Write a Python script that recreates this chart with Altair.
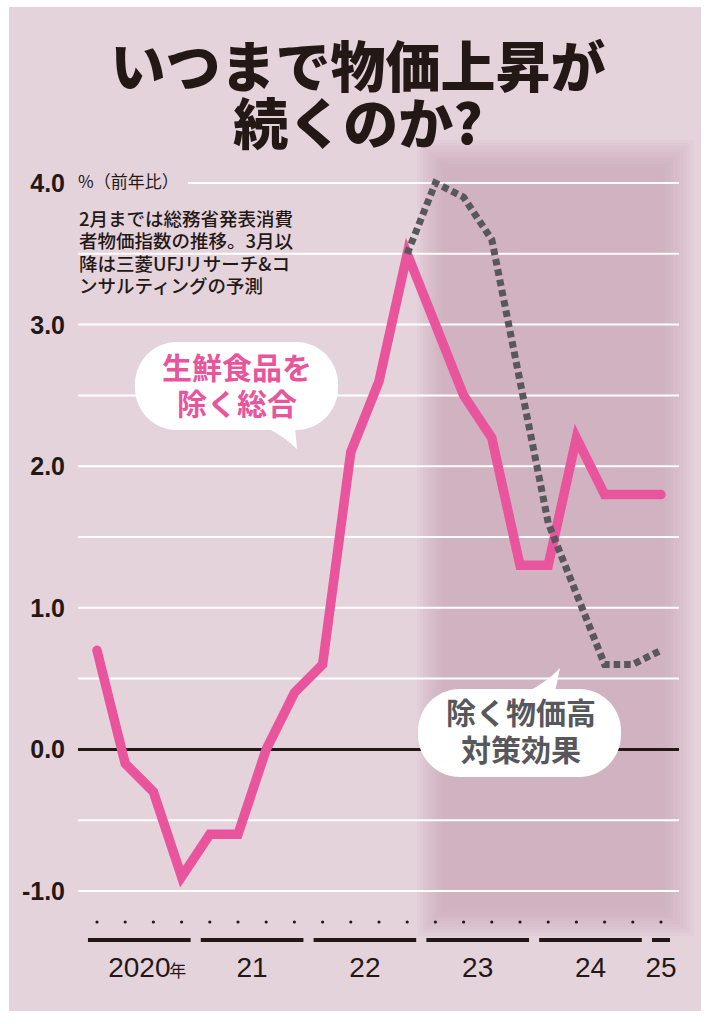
import altair as alt
import pandas as pd

# ---------------- data ----------------
quarters = list(range(21))  # 2020Q1 .. 2025Q1
core_cpi = [0.7, -0.1, -0.3, -0.9, -0.6, -0.6, 0.0, 0.4, 0.6, 2.1, 2.6, 3.5,
            3.0, 2.5, 2.2, 1.3, 1.3, 2.2, 1.8, 1.8, 1.8]
ex_policy_q = list(range(11, 21))
ex_policy = [3.5, 4.0, 3.9, 3.6, 2.6, 1.6, 1.1, 0.6, 0.6, 0.7]
grid_values = [-1.0, -0.5, 0.5, 1.0, 1.5, 2.0, 2.5, 3.0, 3.5]
top_grid = [4.0]
zero_line = [0.0]
y_label_values = [4.0, 3.0, 2.0, 1.0, 0.0, -1.0]
y_label_texts = ["4.0", "3.0", "2.0", "1.0", "0.0", "-1.0"]
years = ["2020", "21", "22", "23", "24", "25"]
year_q0 = [0, 4, 8, 12, 16, 20]
year_q1 = [3, 7, 11, 15, 19, 20]
title_lines = ["いつまで物価上昇が", "続くのか?"]
unit_text = "%（前年比）"
note_lines = ["2月までは総務省発表消費", "者物価指数の推移。3月以",
              "降は三菱UFJリサーチ&コ", "ンサルティングの予測"]
bubble1_lines = ["生鮮食品を", "除く総合"]
bubble2_lines = ["除く物価高", "対策効果"]

# ---------------- styling ----------------
W, H = 714, 1024
X0, DX = 97.0, 28.2      # pixel of first quarter, pixels per quarter
Y0, DY = 749.4, 141.6    # pixel of 0 %, pixels per 1 %
PINK = "#e9559d"
GRAY = "#58575c"
INK = "#231815"
BG = "#e5d3dc"
JP = "Noto Sans CJK JP"
NARROW = "Liberation Sans Narrow, Arial Narrow, Liberation Sans, sans-serif"

xs = alt.Scale(domain=[-X0 / DX, (W - X0) / DX], nice=False, zero=False)
ys = alt.Scale(domain=[(Y0 - H) / DY, Y0 / DY], nice=False, zero=False)

one = pd.DataFrame({"k": [0]})
df_core = pd.DataFrame({"q": quarters, "v": core_cpi})
df_ex = pd.DataFrame({"q": ex_policy_q, "v": ex_policy})
df_grid = pd.DataFrame({"v": grid_values})
df_top = pd.DataFrame({"v": top_grid})
df_zero = pd.DataFrame({"v": zero_line})
df_ylab = pd.DataFrame({"v": y_label_values, "t": y_label_texts})
df_years = pd.DataFrame({"year": years, "q0": year_q0, "q1": year_q1})
df_q = pd.DataFrame({"q": quarters})

layers = []

# panel background
layers.append(alt.Chart(one).mark_rect(color=BG).encode(
    x=alt.value(9), x2=alt.value(701), y=alt.value(7), y2=alt.value(1011)))

# forecast shading band (soft edges by stacking)
for s in range(10):
    layers.append(alt.Chart(one).mark_rect(color="#cba3b9", opacity=0.113).encode(
        x=alt.value(417 + 3 * s), x2=alt.value(694 - 3.5 * s),
        y=alt.value(140 + 3 * s), y2=alt.value(936 - 3 * s)))

# gridlines
layers.append(alt.Chart(df_grid).mark_rule(color="white", strokeWidth=2).encode(
    y=alt.Y("v:Q", scale=ys, axis=None), x=alt.value(78), x2=alt.value(679)))
layers.append(alt.Chart(df_top).mark_rule(color="white", strokeWidth=2).encode(
    y=alt.Y("v:Q", scale=ys, axis=None), x=alt.value(188), x2=alt.value(679)))
layers.append(alt.Chart(df_zero).mark_rule(color=INK, strokeWidth=3).encode(
    y=alt.Y("v:Q", scale=ys, axis=None), x=alt.value(78), x2=alt.value(679)))

# y labels
layers.append(alt.Chart(df_ylab).mark_text(
    align="right", baseline="alphabetic", dy=9, font=NARROW, fontWeight="bold",
    fontSize=25, color=INK).encode(
    x=alt.value(65), y=alt.Y("v:Q", scale=ys, axis=None), text="t:N"))

# unit + note
layers.append(alt.Chart(one).mark_text(
    align="left", baseline="middle", font=JP, fontSize=17, color=INK, text=unit_text
).encode(x=alt.value(78), y=alt.value(183)))
layers.append(alt.Chart(one).mark_text(
    align="left", baseline="middle", font=JP, fontWeight=500, fontSize=18.5,
    lineHeight=22.3, color=INK, text=note_lines
).encode(x=alt.value(79), y=alt.value(220)))

# data lines
layers.append(alt.Chart(df_core).mark_line(
    color=PINK, strokeWidth=9.5, strokeCap="round").encode(
    x=alt.X("q:Q", scale=xs, axis=None), y=alt.Y("v:Q", scale=ys, axis=None)))
layers.append(alt.Chart(df_ex).mark_line(
    color=GRAY, strokeWidth=7, strokeDash=[6.5, 4]).encode(
    x=alt.X("q:Q", scale=xs, axis=None), y=alt.Y("v:Q", scale=ys, axis=None)))

# bubble 1
layers.append(alt.Chart(one).mark_rect(color="white", cornerRadius=42).encode(
    x=alt.value(135), x2=alt.value(338), y=alt.value(342), y2=alt.value(430)))
layers.append(alt.Chart(one).mark_point(
    shape="M0,0 L28,0 L30,21 Q18,9 0,0 Z", size=4, filled=True, color="white",
    opacity=1, strokeWidth=0).encode(x=alt.value(267), y=alt.value(428)))
layers.append(alt.Chart(one).mark_text(
    align="center", baseline="middle", font=JP, fontWeight="bold", fontSize=30,
    lineHeight=36, color=PINK, text=bubble1_lines
).encode(x=alt.value(237), y=alt.value(370)))

# bubble 2
layers.append(alt.Chart(one).mark_rect(color="white", cornerRadius=42).encode(
    x=alt.value(418), x2=alt.value(621), y=alt.value(689), y2=alt.value(777)))
layers.append(alt.Chart(one).mark_point(
    shape="M0,0 Q20,-10 33,-24 L28,0 Z", size=4, filled=True, color="white",
    opacity=1, strokeWidth=0).encode(x=alt.value(527), y=alt.value(692)))
layers.append(alt.Chart(one).mark_text(
    align="center", baseline="middle", font=JP, fontWeight="bold", fontSize=30,
    lineHeight=37, color=GRAY, text=bubble2_lines
).encode(x=alt.value(521), y=alt.value(715)))

# x axis: quarter dots, year bars, year labels
layers.append(alt.Chart(df_q).mark_point(
    filled=True, size=10, color=INK, opacity=1, strokeWidth=0).encode(
    x=alt.X("q:Q", scale=xs, axis=None), y=alt.value(922)))
layers.append(alt.Chart(df_years).transform_calculate(
    xa="datum.q0 - 0.32", xb="datum.q1 + 0.32").mark_rule(
    color=INK, strokeWidth=4).encode(
    x=alt.X("xa:Q", scale=xs, axis=None), x2="xb:Q", y=alt.value(940)))
layers.append(alt.Chart(df_years).transform_calculate(
    xm="(datum.q0 + datum.q1) / 2").mark_text(
    align="center", baseline="alphabetic", font=NARROW, fontSize=28, color=INK).encode(
    x=alt.X("xm:Q", scale=xs, axis=None), y=alt.value(977), text="year:N"))
layers.append(alt.Chart(df_years.iloc[:1]).transform_calculate(
    xm="(datum.q0 + datum.q1) / 2").mark_text(
    align="left", baseline="alphabetic", dx=30, font=JP, fontSize=17, color=INK,
    text="年").encode(x=alt.X("xm:Q", scale=xs, axis=None), y=alt.value(977)))

# title
layers.append(alt.Chart(one).mark_text(
    align="center", baseline="middle", font=JP, fontWeight=900, fontSize=55,
    lineHeight=57, color=INK, text=title_lines
).encode(x=alt.value(358), y=alt.value(70)))

chart = alt.layer(*layers).properties(
    width=W, height=H, autosize=alt.AutoSizeParams(type="none"), padding=0,
    background="white"
).configure_view(stroke=None)

chart.save("out.html", embed_options={"renderer": "svg", "actions": False})
